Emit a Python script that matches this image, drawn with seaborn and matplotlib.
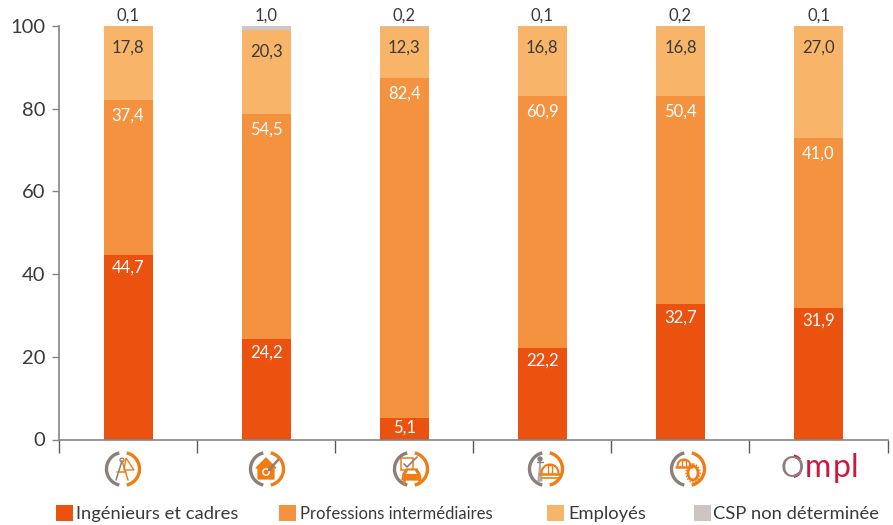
import numpy as np
import pandas as pd
import matplotlib
matplotlib.use("Agg")
import matplotlib.pyplot as plt
from matplotlib.patches import Polygon, Circle, Rectangle, Ellipse
import seaborn as sns

branches = ["Architecture", "Immobilier", "Automobile", "Géomètres", "Ingénierie", "OMPL"]
series_names = ["Ingénieurs et cadres", "Professions intermédiaires", "Employés", "CSP non déterminée"]
ingenieurs = [44.7, 24.2, 5.1, 22.2, 32.7, 31.9]
professions = [37.4, 54.5, 82.4, 60.9, 50.4, 41.0]
employes = [17.8, 20.3, 12.3, 16.8, 16.8, 27.0]
non_determinee = [0.1, 1.0, 0.2, 0.1, 0.2, 0.1]
colours = ["#EC520F", "#F4923F", "#F8B56A", "#CDC5C3"]
yticks = [0, 20, 40, 60, 80, 100]

INK = "#3A3A3A"
GREY = "#858585"
ORANGE = "#F07D14"
ARC_GREY = "#8A7F7B"
CRIMSON = "#C8193F"

sns.set_theme(style="white")
plt.rcParams["font.family"] = ["Lato", "DejaVu Sans"]

W, H = 893, 525
fig = plt.figure(figsize=(W / 100, H / 100), dpi=100)
ax = fig.add_axes([59 / W, 1 - 439.5 / H, 828.6 / W, 413.5 / H])

layers = [ingenieurs, professions, employes, non_determinee]
bottom = np.zeros(6)
label_offsets = [-13, -16, -21]
label_colours = ["white", "white", INK]
for name, vals, col in zip(series_names, layers, colours):
    df = pd.DataFrame({"branche": branches, "part": vals})
    sns.barplot(data=df, x="branche", y="part", order=branches, color=col, width=49 / 138.1,
                bottom=bottom, saturation=1, ax=ax, label=name, legend=False, linewidth=0)
    bottom = bottom + np.array(vals)

cum = np.zeros(6)
for vals, off, lc in zip(layers[:3], label_offsets, label_colours):
    for i, v in enumerate(vals):
        top = cum[i] + v
        o = -9 if v < 8 else off
        ax.annotate(f"{v:.1f}".replace(".", ","), (i, top), xytext=(0, o * 0.72), textcoords="offset points",
                    ha="center", va="center", color=lc, fontsize=12, annotation_clip=False)
    cum += np.array(vals)
for i, v in enumerate(non_determinee):
    ax.annotate(f"{v:.1f}".replace(".", ","), (i, 100), xytext=(0, 10.5 * 0.72), textcoords="offset points",
                ha="center", va="center", color=INK, fontsize=12, annotation_clip=False)

ax.set_xlim(-0.5, 5.5)
ax.set_ylim(0, 100)
ax.set_xlabel("")
ax.set_ylabel("")
ax.set_yticks(yticks)
ax.set_xticks(np.arange(-0.5, 6))
ax.set_xticklabels([""] * 7)
ax.tick_params(axis="y", left=True, length=5, width=1, color=GREY, labelsize=14.5, labelcolor=INK, pad=5)
ax.tick_params(axis="x", bottom=True, length=9.4, width=1, color="#5A5A5A")
sns.despine(ax=ax, top=True, right=True)
for s in ("left", "bottom"):
    ax.spines[s].set_color(GREY)
    ax.spines[s].set_linewidth(1.2)

# Pixel-space overlay for the branch pictograms and the legend row
ov = fig.add_axes([0, 0, 1, 1], zorder=5)
ov.set_xlim(0, W)
ov.set_ylim(H, 0)
ov.axis("off")


def arc(cx, cy, r, a0, a1, c, lw):
    t = np.radians(np.linspace(a0, a1, 40))
    ov.plot(cx + r * np.cos(t), cy - r * np.sin(t), color=c, lw=lw, solid_capstyle="butt")


def rings(cx, cy, r=16.5):
    arc(cx, cy, r, 103, 257, ARC_GREY, 2.4)
    arc(cx, cy, r, -77, 77, ORANGE, 2.4)


def line(xs, ys, c=ORANGE, lw=1.0):
    ov.plot(xs, ys, color=c, lw=lw, solid_capstyle="round")


def poly(pts, c=ORANGE, fill=True, lw=0.9):
    ov.add_patch(Polygon(pts, closed=True, facecolor=c if fill else "none", edgecolor=c, lw=lw))


def helmet(cx, cy, r=8):
    t = np.radians(np.linspace(0, 180, 24))
    ov.plot(cx + r * np.cos(t), cy - r * np.sin(t), color=ORANGE, lw=1.5)
    line([cx - 2, cx - 2, cx + 2, cx + 2], [cy, cy - r, cy - r, cy], lw=1.0)
    line([cx - r - 1.5, cx + r + 1.5], [cy + 1, cy + 1], lw=1.8)


# 1 compass and set square
cx, cy = 123, 469
rings(cx, cy)
line([cx - 1, cx - 7], [cy - 8, cy + 11], c=ARC_GREY, lw=1.1)
line([cx - 1, cx + 5], [cy - 8, cy + 11], lw=1.1)
line([cx - 6, cx + 3], [cy + 3, cy + 3], lw=1.1)
ov.add_patch(Circle((cx - 1, cy - 9), 2, fc="white", ec=ARC_GREY, lw=0.9))
poly([(cx + 3, cy - 11), (cx + 11, cy + 1), (cx + 1, cy + 1)], fill=False, lw=1.0)

# 2 house with coin and pencil
cx, cy = 267, 469
rings(cx, cy)
poly([(cx - 11, cy - 1), (cx - 1, cy - 11), (cx + 9, cy - 1), (cx + 7, cy - 1), (cx + 7, cy + 10),
      (cx - 9, cy + 10), (cx - 9, cy - 1)])
ov.add_patch(Circle((cx - 1, cy + 3), 3.2, fc="none", ec="white", lw=1.0))
line([cx + 2, cx + 11], [cy + 1, cy - 9], c=ARC_GREY, lw=1.8)

# 3 checklist and car
cx, cy = 411, 469
rings(cx, cy)
poly([(cx - 10, cy - 11), (cx + 2, cy - 11), (cx + 2, cy + 1), (cx - 10, cy + 1)], fill=False, lw=1.1)
line([cx - 7, cx - 4, cx + 6], [cy - 5, cy - 2, cy - 12], c=ARC_GREY, lw=1.2)
poly([(cx - 5, cy), (cx + 6, cy), (cx + 9, cy + 5), (cx + 10, cy + 11), (cx - 9, cy + 11), (cx - 8, cy + 5)])
poly([(cx - 3, cy + 1.5), (cx + 4, cy + 1.5), (cx + 6, cy + 5), (cx - 5, cy + 5)], c="white", lw=0)
line([cx - 7, cx - 7], [cy + 11, cy + 14], lw=1.8)
line([cx + 8, cx + 8], [cy + 11, cy + 14], lw=1.8)

# 4 surveyor's ruler and helmet
cx, cy = 546, 469
rings(cx, cy)
poly([(cx - 8, cy + 12), (cx - 6, cy - 8), (cx - 4, cy + 12)], c="#B5ACA8")
ov.add_patch(Circle((cx - 6, cy - 10), 2, fc=ARC_GREY, ec=ARC_GREY))
line([cx - 9, cx - 3], [cy - 7, cy - 7], c=ARC_GREY, lw=1.0)
helmet(cx + 4, cy + 4, r=8.5)
line([cx - 4, cx + 13], [cy + 9, cy + 9], lw=1.2)

# 5 helmet and gear
cx, cy = 688, 469
rings(cx, cy)
ov.add_patch(Ellipse((cx + 5, cy + 4), 10, 14, fc="white", ec=ORANGE, lw=2.0))
ov.add_patch(Ellipse((cx + 5, cy + 4), 14, 18, fc="none", ec=ORANGE, lw=1.1, ls=(0, (1, 1))))
helmet(cx - 4, cy - 3, r=6.5)

# 6 OMPL logotype
ov.text(780.5, 477, "O", color=ARC_GREY, fontsize=21, ha="left", va="baseline")
arc(791.5, 466.2, 10.5, -38, 38, "white", 4)
arc(791.5, 466.2, 10.5, 38, 78, CRIMSON, 2.2)
arc(791.5, 466.2, 10.5, -78, -38, CRIMSON, 2.2)
for letter, lx in zip("mpl", [805, 833, 851]):
    ov.text(lx, 477, letter, color=CRIMSON, fontsize=23, ha="left", va="baseline")

# Legend row
swatch_x = [56, 279, 547, 694]
label_x = [76, 300, 568, 713]
label_sizes = [13.2, 12, 13.2, 13.2]
for sx, lx, fs, c, n in zip(swatch_x, label_x, label_sizes, colours, series_names):
    ov.add_patch(Rectangle((sx, 505), 16.5, 16, facecolor=c, edgecolor="none"))
    ov.text(lx, 514, n, color=INK, fontsize=fs, ha="left", va="center")

fig.savefig("out.png", dpi=100)
